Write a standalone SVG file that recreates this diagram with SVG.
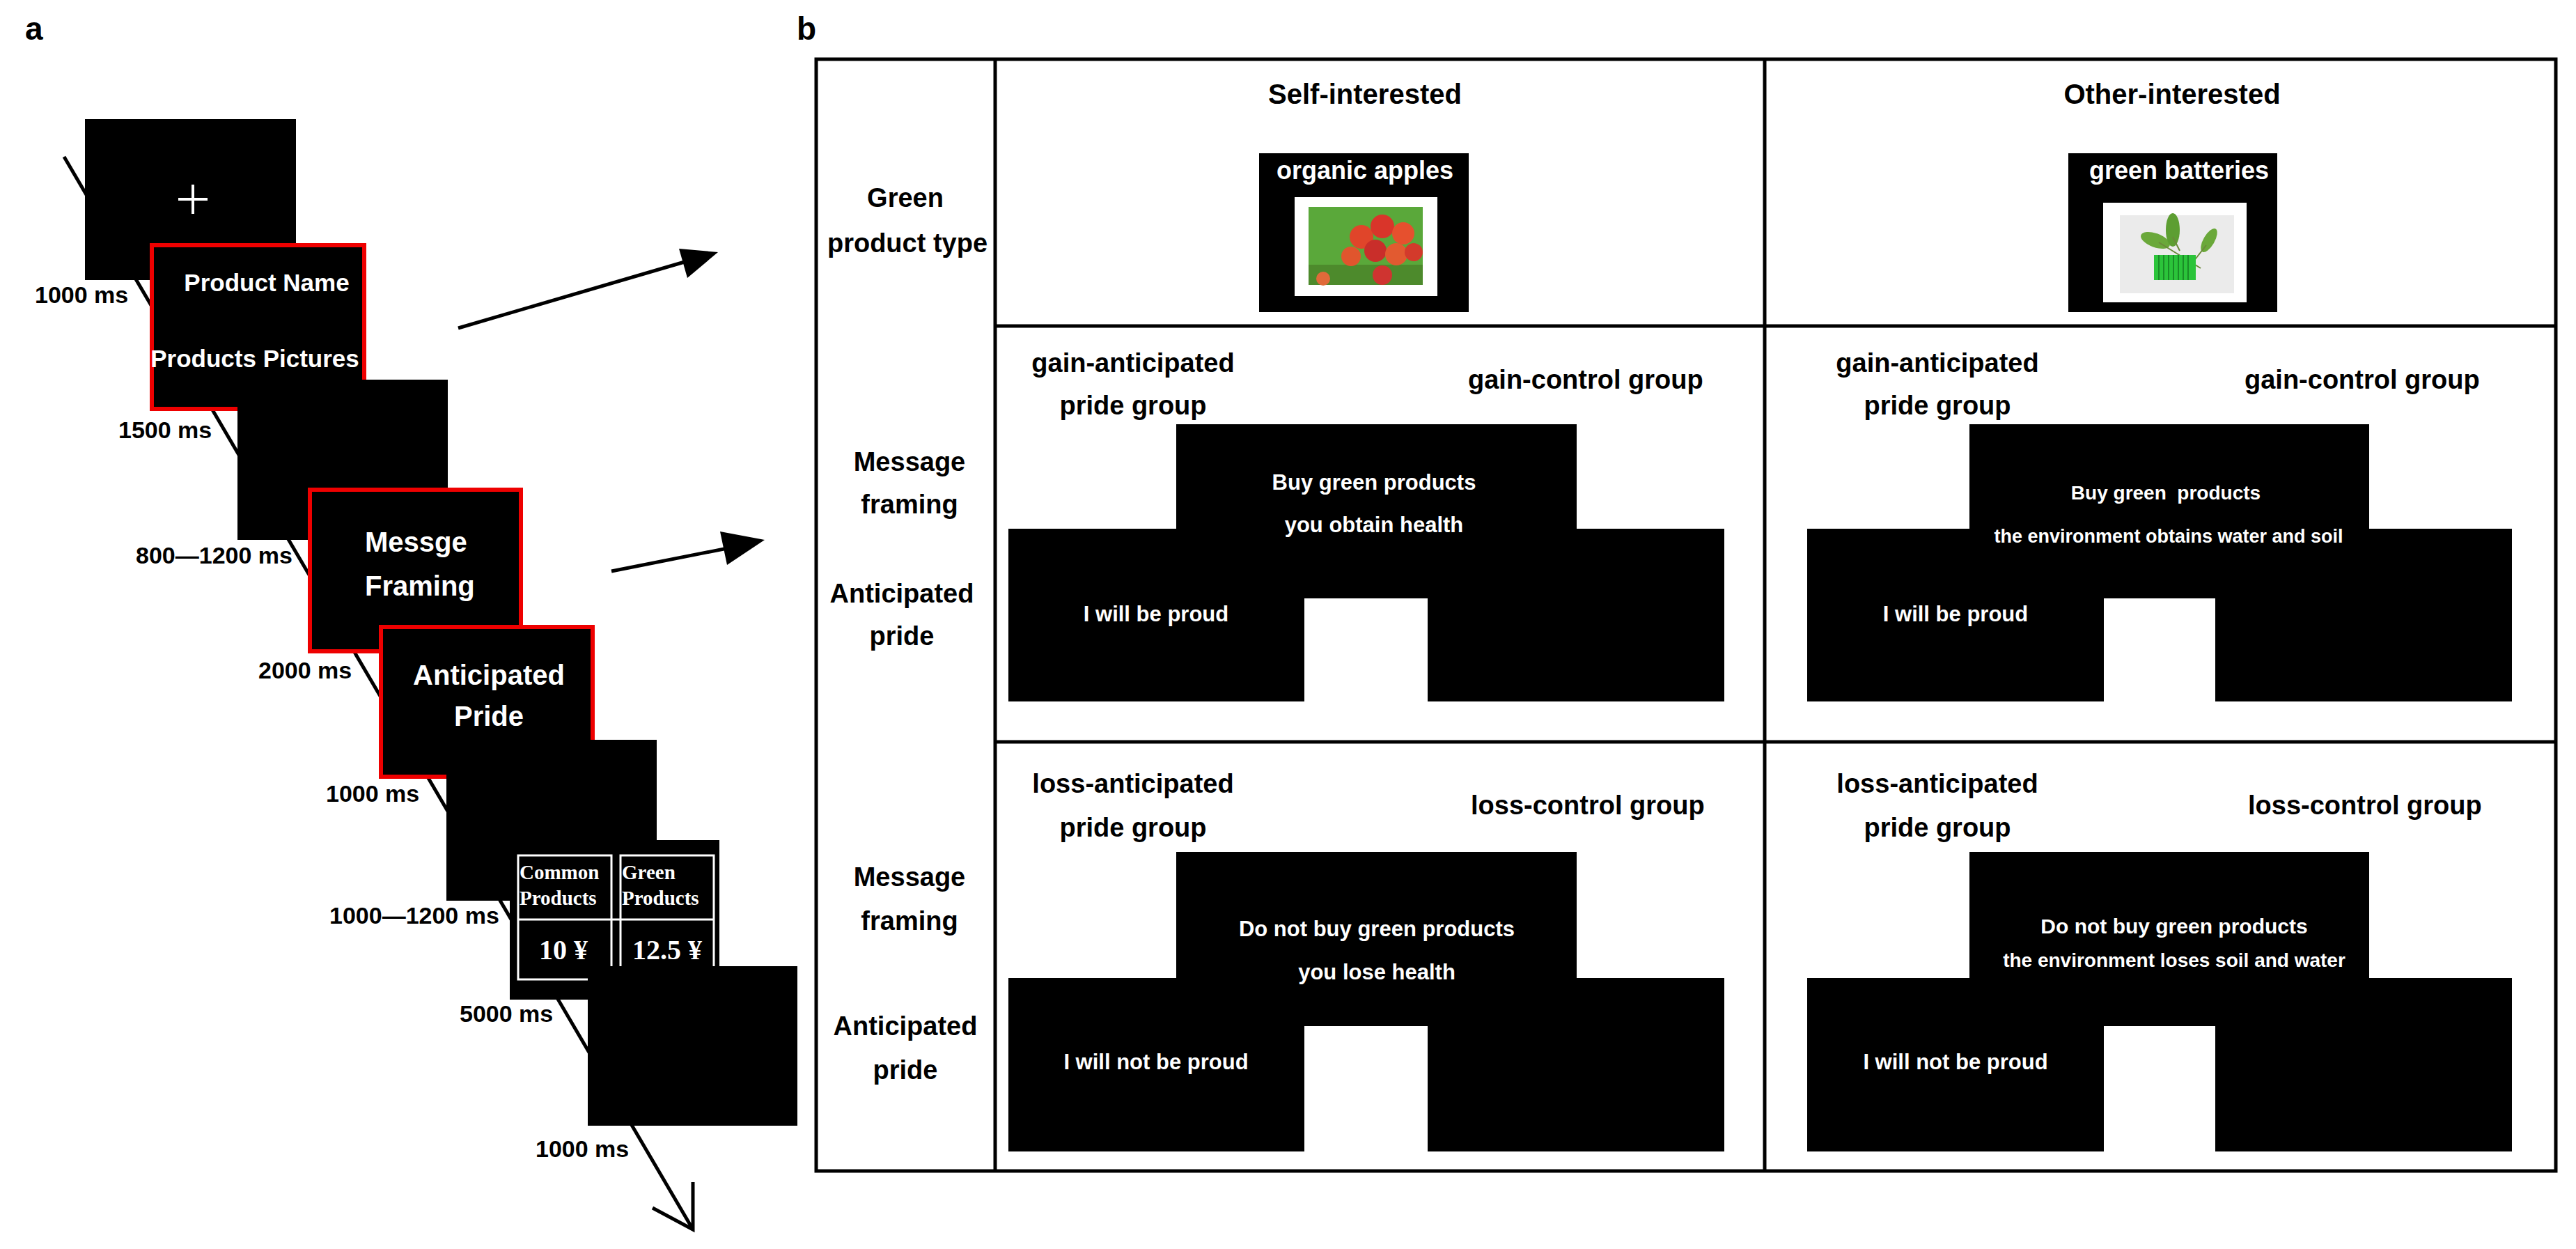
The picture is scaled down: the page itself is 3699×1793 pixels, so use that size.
<svg xmlns="http://www.w3.org/2000/svg" width="3699" height="1793" viewBox="0 0 3699 1793">
<style>
.t{font-family:"Liberation Sans","Noto Sans",sans-serif;font-weight:bold;fill:#000}
.w{font-family:"Liberation Sans","Noto Sans",sans-serif;font-weight:bold;fill:#fff}
.s{font-family:"Liberation Serif","DejaVu Serif",serif;font-weight:bold;fill:#fff}
.ln{stroke:#000;stroke-width:5;fill:none}
.scr{fill:#000}
.red{fill:#000;stroke:#e00;stroke-width:6}
.m{text-anchor:middle}
</style>
<rect width="3699" height="1793" fill="#fff"/>
<text class="t" x="36" y="57" font-size="46">a</text>
<text class="t" x="1144" y="57" font-size="46">b</text>

<g id="connectors">
<line class="ln" x1="92" y1="225" x2="995" y2="1765"/>
<polyline class="ln" points="937,1734 995,1765 995,1697"/>
<line class="ln" x1="658" y1="471" x2="1000" y2="371"/>
<polygon points="1031,362 975,357 987,399" fill="#000"/>
<line class="ln" x1="878" y1="820" x2="1070" y2="782"/>
<polygon points="1098,775 1034,763 1044,811" fill="#000"/>
</g>

<g id="s1"><rect class="scr" x="122" y="171" width="303" height="231"/>
<path d="M277 265v42M256 286h42" stroke="#fff" stroke-width="4"/></g>
<text class="t" x="50" y="435" font-size="34">1000 ms</text>
<g id="s2"><rect class="red" x="218" y="352" width="305" height="235"/>
<text class="w m" x="383" y="418" font-size="35">Product Name</text>
<text class="w m" x="366" y="527" font-size="35">Products Pictures</text></g>
<text class="t" x="170" y="629" font-size="34">1500 ms</text>
<g id="s3"><rect class="scr" x="341" y="545" width="302" height="230"/></g>
<text class="t" x="195" y="809" font-size="34">800—1200 ms</text>
<g id="s4"><rect class="red" x="445" y="703" width="303" height="232"/>
<text class="w" x="524" y="792" font-size="40">Messge</text>
<text class="w" x="524" y="855" font-size="40">Framing</text></g>
<text class="t" x="371" y="974" font-size="34">2000 ms</text>
<g id="s5"><rect class="red" x="547" y="900" width="304" height="215"/>
<text class="w m" x="702" y="983" font-size="40">Anticipated</text>
<text class="w m" x="702" y="1042" font-size="40">Pride</text></g>
<text class="t" x="468" y="1151" font-size="34">1000 ms</text>
<g id="s6"><rect class="scr" x="641" y="1062" width="302" height="231"/></g>
<text class="t" x="473" y="1326" font-size="34">1000—1200 ms</text>
<g id="s7"><rect class="scr" x="732" y="1206" width="301" height="229"/>
<rect x="744" y="1228" width="134" height="178" fill="none" stroke="#fff" stroke-width="3"/>
<rect x="891" y="1228" width="134" height="178" fill="none" stroke="#fff" stroke-width="3"/>
<line x1="744" y1="1320" x2="1025" y2="1320" stroke="#fff" stroke-width="3"/>
<text class="s" x="746" y="1262" font-size="29">Common</text>
<text class="s" x="746" y="1299" font-size="29">Products</text>
<text class="s" x="893" y="1262" font-size="29">Green</text>
<text class="s" x="893" y="1299" font-size="29">Products</text>
<text class="s m" x="809" y="1377" font-size="40">10 ¥</text>
<text class="s m" x="958" y="1377" font-size="40">12.5 ¥</text></g>
<text class="t" x="660" y="1467" font-size="34">5000 ms</text>
<g id="s8"><rect class="scr" x="844" y="1387" width="301" height="229"/></g>
<text class="t" x="769" y="1661" font-size="34">1000 ms</text>

<g id="table">
<rect class="ln" x="1172" y="85" width="2498" height="1596"/>
<line class="ln" x1="1429" y1="85" x2="1429" y2="1681"/>
<line class="ln" x1="2534" y1="85" x2="2534" y2="1681"/>
<line class="ln" x1="1429" y1="468" x2="3670" y2="468"/>
<line class="ln" x1="1429" y1="1065" x2="3670" y2="1065"/>
</g>

<g id="rowlabels" class="t m" font-size="38">
<text class="t m" x="1300" y="297">Green</text>
<text class="t m" x="1303" y="362">product type</text>
<text class="t m" x="1306" y="676">Message</text>
<text class="t m" x="1306" y="737">framing</text>
<text class="t m" x="1295" y="865">Anticipated</text>
<text class="t m" x="1295" y="926">pride</text>
<text class="t m" x="1306" y="1272">Message</text>
<text class="t m" x="1306" y="1335">framing</text>
<text class="t m" x="1300" y="1486">Anticipated</text>
<text class="t m" x="1300" y="1549">pride</text>
</g>

<g id="self">
<text class="t m" x="1960" y="149" font-size="40">Self-interested</text>
<rect x="1808" y="220" width="301" height="228" fill="#000"/>
<text class="w m" x="1960" y="257" font-size="36">organic apples</text>
<rect x="1859" y="283" width="205" height="142" fill="#fff"/>
<rect x="1879" y="297" width="164" height="112" fill="#5aa83a"/>
<rect x="1879" y="380" width="164" height="29" fill="#4d8a2c"/>
<circle cx="1955" cy="340" r="17" fill="#e0452a"/><circle cx="1985" cy="325" r="17" fill="#d9352a"/>
<circle cx="2015" cy="335" r="16" fill="#e6502e"/><circle cx="1975" cy="360" r="16" fill="#c92e2a"/>
<circle cx="2005" cy="365" r="16" fill="#e25a30"/><circle cx="2030" cy="362" r="13" fill="#d33a2b"/>
<circle cx="1940" cy="368" r="14" fill="#e0552d"/><circle cx="1985" cy="395" r="14" fill="#cf3430"/>
<circle cx="1900" cy="400" r="10" fill="#e06a3a"/>
</g>
<g id="other">
<text class="t m" x="3119" y="149" font-size="40">Other-interested</text>
<rect x="2970" y="220" width="300" height="228" fill="#000"/>
<text class="w m" x="3129" y="257" font-size="36">green batteries</text>
<rect x="3020" y="291" width="206" height="143" fill="#fff"/>
<rect x="3044" y="309" width="164" height="112" fill="#ebebeb"/>
<ellipse cx="3095" cy="345" rx="22" ry="10" transform="rotate(20 3095 345)" fill="#6aa83a"/>
<ellipse cx="3120" cy="330" rx="10" ry="24" fill="#5d9e32"/>
<ellipse cx="3172" cy="345" rx="8" ry="19" transform="rotate(30 3172 345)" fill="#6aa83a"/>
<path d="M3100 348 L3160 385 M3120 340 L3130 360 M3150 375 L3168 352" stroke="#6a8a3a" stroke-width="2"/>
<rect x="3093" y="366" width="60" height="36" fill="#2bc43a"/>
<path d="M3100 366v36M3107 366v36M3114 366v36M3121 366v36M3128 366v36M3135 366v36M3142 366v36" stroke="#157a20" stroke-width="1.5"/>
</g>

<g id="gain-self">
<text class="t m" x="1627" y="534" font-size="38">gain-anticipated</text>
<text class="t m" x="1627" y="595" font-size="38">pride group</text>
<text class="t" x="2108" y="558" font-size="38">gain-control group</text>
<path d="M1689 609H2264V759H2476V1007H2050V859H1873V1007H1448V759H1689Z" fill="#000"/>
<text class="w m" x="1973" y="703" font-size="31">Buy green products</text>
<text class="w m" x="1973" y="764" font-size="31">you obtain health</text>
<text class="w m" x="1660" y="892" font-size="31">I will be proud</text>
</g>
<g id="gain-other">
<text class="t m" x="2782" y="534" font-size="38">gain-anticipated</text>
<text class="t m" x="2782" y="595" font-size="38">pride group</text>
<text class="t" x="3223" y="558" font-size="38">gain-control group</text>
<path d="M2828 609H3402V759H3607V1007H3181V859H3021V1007H2595V759H2828Z" fill="#000"/>
<text class="w m" x="3110" y="717" font-size="28" xml:space="preserve">Buy green  products</text>
<text class="w m" x="3114" y="779" font-size="27">the environment obtains water and soil</text>
<text class="w m" x="2808" y="892" font-size="31">I will be proud</text>
</g>
<g id="loss-self">
<text class="t m" x="1627" y="1138" font-size="38">loss-anticipated</text>
<text class="t m" x="1627" y="1201" font-size="38">pride group</text>
<text class="t" x="2112" y="1169" font-size="38">loss-control group</text>
<path d="M1689 1223H2264V1404H2476V1653H2050V1473H1873V1653H1448V1404H1689Z" fill="#000"/>
<text class="w m" x="1977" y="1344" font-size="31">Do not buy green products</text>
<text class="w m" x="1977" y="1406" font-size="31">you lose health</text>
<text class="w m" x="1660" y="1535" font-size="31">I will not be proud</text>
</g>
<g id="loss-other">
<text class="t m" x="2782" y="1138" font-size="38">loss-anticipated</text>
<text class="t m" x="2782" y="1201" font-size="38">pride group</text>
<text class="t" x="3228" y="1169" font-size="38">loss-control group</text>
<path d="M2828 1223H3402V1404H3607V1653H3181V1473H3021V1653H2595V1404H2828Z" fill="#000"/>
<text class="w m" x="3122" y="1340" font-size="30">Do not buy green products</text>
<text class="w m" x="3122" y="1388" font-size="28">the environment loses soil and water</text>
<text class="w m" x="2808" y="1535" font-size="31">I will not be proud</text>
</g>
</svg>
